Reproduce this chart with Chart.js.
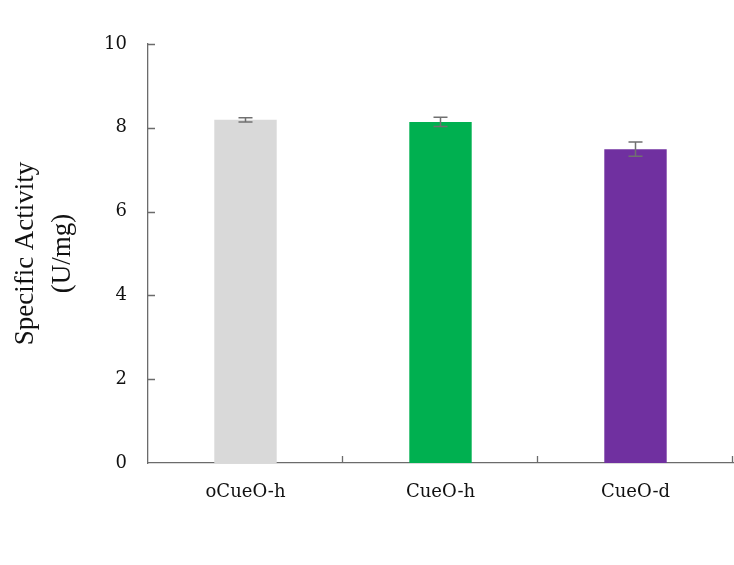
<!DOCTYPE html>
<html>
<head>
<meta charset="utf-8">
<script src="https://cdn.jsdelivr.net/npm/chart.js@4.4.0/dist/chart.umd.min.js"></script>
<style>
  html, body { margin: 0; padding: 0; background: #fff; }
  #wrap { width: 734px; height: 565px; }
</style>
</head>
<body>
<div id="wrap"><canvas id="chart" width="734" height="565"></canvas></div>
<script>
// data
var samples = ['oCueO-h', 'CueO-h', 'CueO-d'];
var activity = [8.19, 8.14, 7.49];
var errors = [0.05, 0.11, 0.17];
var barColors = ['#d9d9d9', '#00b050', '#7030a0'];
var yTicks = [0, 2, 4, 6, 8, 10];

var axisColor = '#6b6b6b';

// error bars + inward ticks
var extras = {
    id: 'extras',
    afterDatasetsDraw: function (chart) {
        var ctx = chart.ctx;
        var x = chart.scales.x, y = chart.scales.y;
        var area = chart.chartArea;
        ctx.save();
        ctx.strokeStyle = '#707070';
        ctx.lineWidth = 1.5;
        activity.forEach(function (v, i) {
            var cx = x.getPixelForValue(i);
            var top = y.getPixelForValue(v + errors[i]);
            var bot = y.getPixelForValue(v - errors[i]);
            ctx.beginPath();
            ctx.moveTo(cx, top); ctx.lineTo(cx, bot);
            ctx.moveTo(cx - 7, top); ctx.lineTo(cx + 7, top);
            ctx.moveTo(cx - 7, bot); ctx.lineTo(cx + 7, bot);
            ctx.stroke();
        });

        // axis ticks pointing into the plot
        ctx.strokeStyle = axisColor;
        ctx.lineWidth = 1.3;
        ctx.beginPath();
        yTicks.forEach(function (t) {
            var py = Math.round(y.getPixelForValue(t)) + 0.5;
            if (t > 0) { ctx.moveTo(area.left, py); ctx.lineTo(area.left + 7, py); }
        });
        for (var i = 0; i <= samples.length; i++) {
            var px = Math.round(x.getPixelForValue(i - 0.5)) - 0.5;
            if (i > 0) { ctx.moveTo(px, area.bottom); ctx.lineTo(px, area.bottom - 7); }
        }
        ctx.stroke();
        ctx.restore();
    }
};

new Chart(document.getElementById('chart').getContext('2d'), {
    type: 'bar',
    data: {
        labels: samples,
        datasets: [{
            data: activity,
            backgroundColor: barColors,
            borderWidth: 0,
            barPercentage: 0.32,
            categoryPercentage: 1.0
        }]
    },
    options: {
        responsive: false,
        animation: false,
        layout: { padding: { top: 44, right: 1, bottom: 0, left: 0 } },
        plugins: {
            legend: { display: false },
            tooltip: { enabled: false }
        },
        scales: {
            x: {
                grid: { display: false, drawTicks: false },
                border: { color: axisColor, width: 1.3 },
                ticks: {
                    color: '#111',
                    padding: 19,
                    font: { family: 'DejaVu Serif', size: 18 }
                },
                afterFit: function (s) { s.height = 102; }
            },
            y: {
                min: 0,
                max: 10,
                afterBuildTicks: function (s) {
                    s.ticks = yTicks.map(function (v) { return { value: v }; });
                },
                grid: { display: false, drawTicks: false },
                border: { color: axisColor, width: 1.3 },
                ticks: {
                    color: '#111',
                    padding: 21,
                    font: { family: 'DejaVu Serif', size: 18 }
                },
                title: {
                    display: true,
                    text: ['Specific Activity', '(U/mg)'],
                    color: '#111',
                    font: { family: 'Liberation Serif', size: 27, lineHeight: 1.37 },
                    padding: { top: 7, bottom: 0 }
                },
                afterFit: function (s) { s.width = 148; }
            }
        }
    },
    plugins: [extras]
});
</script>
</body>
</html>
